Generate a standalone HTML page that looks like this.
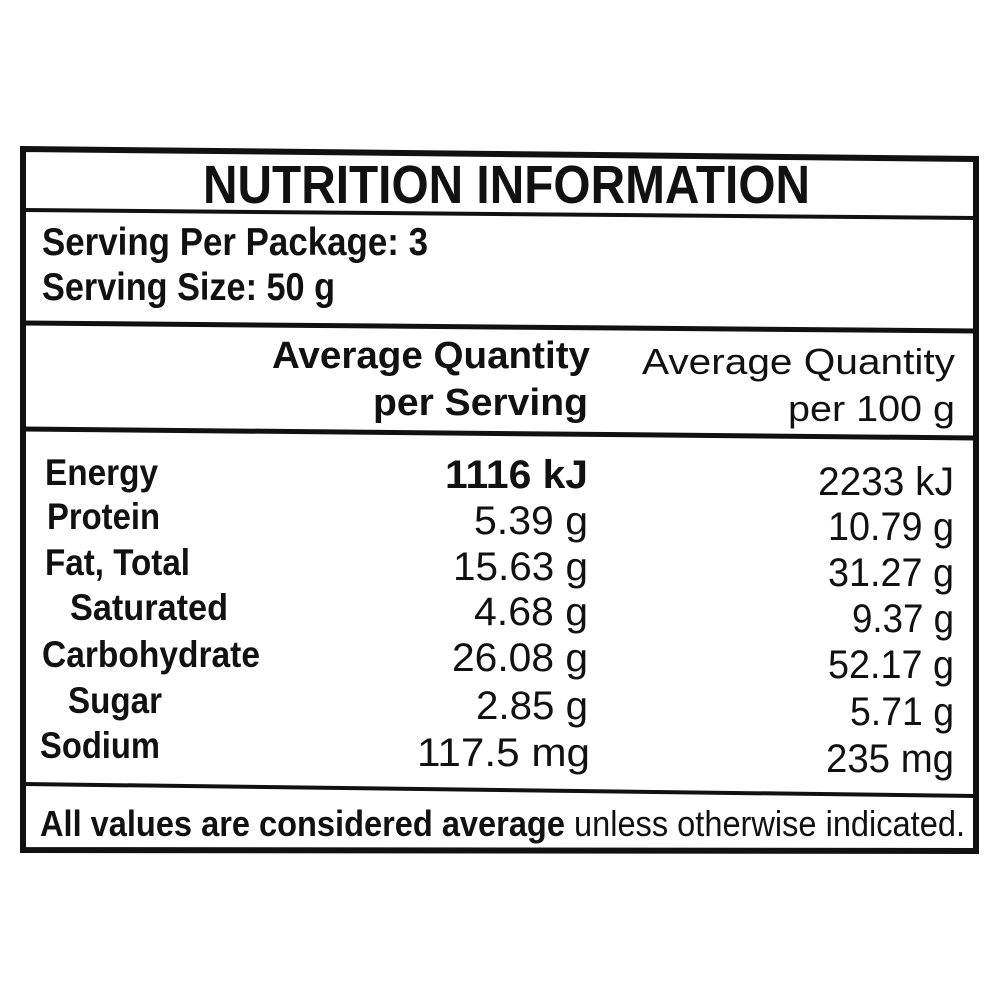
<!DOCTYPE html>
<html><head><meta charset="utf-8"><style>
html,body{margin:0;padding:0;background:#fff;}
svg{display:block;}
text{font-family:"Liberation Sans",sans-serif;fill:#111;}
.b{font-weight:bold;}
</style></head><body>
<svg width="1000" height="1000" viewBox="0 0 1000 1000">
<rect width="1000" height="1000" fill="#fff"/>
<g stroke="#111" fill="none" stroke-linejoin="miter">
<polygon points="23,149 976,159 976,851 23,850" stroke-width="6"/>
<line x1="23" y1="210" x2="976" y2="218" stroke-width="4"/>
<line x1="23" y1="323" x2="976" y2="331" stroke-width="5"/>
<line x1="23" y1="429" x2="976" y2="438" stroke-width="5"/>
<line x1="23" y1="784" x2="976" y2="796" stroke-width="4"/>
</g>
<text class="b" x="203" y="203" font-size="54" textLength="607" lengthAdjust="spacingAndGlyphs">NUTRITION INFORMATION</text>
<text class="b" x="42" y="255" font-size="39" textLength="386" lengthAdjust="spacingAndGlyphs">Serving Per Package: 3</text>
<text class="b" x="42" y="300" font-size="39" textLength="293" lengthAdjust="spacingAndGlyphs">Serving Size: 50 g</text>
<text class="b" x="272" y="368" font-size="38" textLength="318" lengthAdjust="spacingAndGlyphs">Average Quantity</text>
<text class="b" x="373" y="415" font-size="38" textLength="215" lengthAdjust="spacingAndGlyphs">per Serving</text>
<text x="642" y="374" font-size="36" textLength="313" lengthAdjust="spacingAndGlyphs">Average Quantity</text>
<text x="788" y="421" font-size="36" textLength="167" lengthAdjust="spacingAndGlyphs">per 100 g</text>
<g font-size="37">
<text class="b" x="45" y="485" textLength="113" lengthAdjust="spacingAndGlyphs">Energy</text>
<text class="b" x="47" y="529" textLength="113" lengthAdjust="spacingAndGlyphs">Protein</text>
<text class="b" x="45" y="575" textLength="145" lengthAdjust="spacingAndGlyphs">Fat, Total</text>
<text class="b" x="70" y="620" textLength="158" lengthAdjust="spacingAndGlyphs">Saturated</text>
<text class="b" x="42" y="667" textLength="218" lengthAdjust="spacingAndGlyphs">Carbohydrate</text>
<text class="b" x="68" y="713" textLength="94" lengthAdjust="spacingAndGlyphs">Sugar</text>
<text class="b" x="40" y="758" textLength="120" lengthAdjust="spacingAndGlyphs">Sodium</text>
</g>
<g font-size="40" lengthAdjust="spacingAndGlyphs">
<text class="b" x="445" y="488" textLength="143" lengthAdjust="spacingAndGlyphs">1116 kJ</text>
<text x="474" y="534" textLength="114" lengthAdjust="spacingAndGlyphs">5.39 g</text>
<text x="453" y="580" textLength="135" lengthAdjust="spacingAndGlyphs">15.63 g</text>
<text x="474" y="625" textLength="114" lengthAdjust="spacingAndGlyphs">4.68 g</text>
<text x="452" y="671" textLength="136" lengthAdjust="spacingAndGlyphs">26.08 g</text>
<text x="476" y="719" textLength="112" lengthAdjust="spacingAndGlyphs">2.85 g</text>
<text x="417" y="766" textLength="173" lengthAdjust="spacingAndGlyphs">117.5 mg</text>
<text x="818" y="495" textLength="136" lengthAdjust="spacingAndGlyphs">2233 kJ</text>
<text x="828" y="540" textLength="126" lengthAdjust="spacingAndGlyphs">10.79 g</text>
<text x="828" y="586" textLength="126" lengthAdjust="spacingAndGlyphs">31.27 g</text>
<text x="852" y="632" textLength="102" lengthAdjust="spacingAndGlyphs">9.37 g</text>
<text x="828" y="678" textLength="126" lengthAdjust="spacingAndGlyphs">52.17 g</text>
<text x="850" y="725" textLength="104" lengthAdjust="spacingAndGlyphs">5.71 g</text>
<text x="826" y="772" textLength="128" lengthAdjust="spacingAndGlyphs">235 mg</text>
</g>
<text x="40" y="836" font-size="36" textLength="925" lengthAdjust="spacingAndGlyphs"><tspan font-weight="bold">All values are considered average</tspan> unless otherwise indicated.</text>
</svg>
</body></html>
